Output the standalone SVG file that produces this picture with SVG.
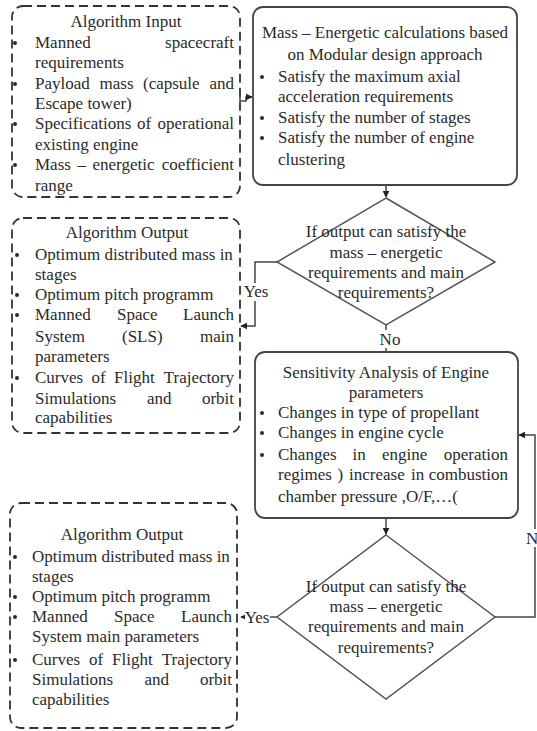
<svg xmlns="http://www.w3.org/2000/svg" width="537" height="731" viewBox="0 0 537 731">
<style>
.t{font-family:"Liberation Serif","Times New Roman",serif;font-size:17px;fill:#2b2b2b}
.c{text-anchor:middle}
.e{text-anchor:end}
.dash{fill:#fff;stroke:#333;stroke-width:1.8;stroke-dasharray:9 5}
.solid{fill:#fff;stroke:#444;stroke-width:1.8}
.dia{fill:#fff;stroke:#555;stroke-width:1.5}
.ln{fill:none;stroke:#444;stroke-width:1.5}
.b{fill:#2b2b2b}
.bg{fill:#fff}
</style>
<defs>
<marker id="ah" viewBox="0 0 10 10" refX="9" refY="5" markerWidth="7" markerHeight="7" markerUnits="userSpaceOnUse" orient="auto">
<path d="M0,0 L10,5 L0,10 z" fill="#222"/>
</marker>
</defs>
<rect width="537" height="731" fill="#fff"/>

<g id="algorithm-input">
<rect class="dash" x="12" y="6" width="228" height="191" rx="11"/>
<text class="t c" x="126" y="27">Algorithm Input</text>
<circle class="b" cx="15" cy="43" r="2"/>
<text class="t" x="35" y="48">Manned</text><text class="t e" x="234" y="48">spacecraft</text>
<text class="t" x="35" y="68">requirements</text>
<circle class="b" cx="15" cy="84" r="2"/>
<text class="t" x="35" y="89">Payload</text><text class="t" x="99.5" y="89">mass</text><text class="t" x="143" y="89">(capsule</text><text class="t e" x="234" y="89">and</text>
<text class="t" x="35" y="109">Escape tower)</text>
<circle class="b" cx="15" cy="124" r="2"/>
<text class="t" x="35" y="129">Specifications</text><text class="t" x="137" y="129">of</text><text class="t e" x="234" y="129">operational</text>
<text class="t" x="35" y="150">existing engine</text>
<circle class="b" cx="15" cy="165" r="2"/>
<text class="t" x="35" y="170">Mass</text><text class="t" x="77.5" y="170">–</text><text class="t" x="92.5" y="170">energetic</text><text class="t e" x="234" y="170">coefficient</text>
<text class="t" x="35" y="191">range</text>
</g>

<g id="mass-energetic">
<rect class="solid" x="253" y="7" width="264" height="178" rx="10"/>
<text class="t c" x="385" y="38">Mass – Energetic calculations based</text>
<text class="t c" x="385" y="60">on Modular design approach</text>
<circle class="b" cx="262" cy="77" r="2"/>
<text class="t" x="278" y="82">Satisfy the maximum axial</text>
<text class="t" x="278" y="102">acceleration requirements</text>
<circle class="b" cx="262" cy="118" r="2"/>
<text class="t" x="278" y="123">Satisfy the number of stages</text>
<circle class="b" cx="262" cy="138" r="2"/>
<text class="t" x="278" y="143">Satisfy the number of engine</text>
<text class="t" x="278" y="165">clustering</text>
</g>

<g id="decision-1">
<polygon class="dia" points="386,198 495,262 386,325 277,262"/>
<text class="t c" x="386" y="237">If output can satisfy the</text>
<text class="t c" x="386" y="258">mass – energetic</text>
<text class="t c" x="386" y="278">requirements and main</text>
<text class="t c" x="386" y="298">requirements?</text>
</g>

<g id="algorithm-output-1">
<rect class="dash" x="12" y="218" width="228" height="215" rx="11"/>
<text class="t c" x="127" y="238">Algorithm Output</text>
<circle class="b" cx="17" cy="255" r="2"/>
<text class="t" x="35" y="260">Optimum distributed mass in</text>
<text class="t" x="35" y="280">stages</text>
<circle class="b" cx="17" cy="295" r="2"/>
<text class="t" x="35" y="300">Optimum pitch programm</text>
<circle class="b" cx="17" cy="315" r="2"/>
<text class="t" x="35" y="320">Manned</text><text class="t" x="117" y="320">Space</text><text class="t e" x="234" y="320">Launch</text>
<text class="t" x="35" y="342">System</text><text class="t" x="122" y="342">(SLS)</text><text class="t e" x="234" y="342">main</text>
<text class="t" x="35" y="362">parameters</text>
<circle class="b" cx="17" cy="378" r="2"/>
<text class="t" x="35" y="383">Curves</text><text class="t" x="91.5" y="383">of</text><text class="t" x="114" y="383">Flight</text><text class="t e" x="234" y="383">Trajectory</text>
<text class="t" x="35" y="404">Simulations</text><text class="t" x="147" y="404">and</text><text class="t e" x="234" y="404">orbit</text>
<text class="t" x="35" y="423">capabilities</text>
</g>

<g id="sensitivity">
<rect class="solid" x="255" y="352" width="263" height="166" rx="10"/>
<text class="t c" x="386" y="378">Sensitivity Analysis of Engine</text>
<text class="t c" x="386" y="398">parameters</text>
<circle class="b" cx="262" cy="413" r="2"/>
<text class="t" x="278" y="418">Changes in type of propellant</text>
<circle class="b" cx="262" cy="433" r="2"/>
<text class="t" x="278" y="438">Changes in engine cycle</text>
<circle class="b" cx="262" cy="455" r="2"/>
<text class="t" x="278" y="460">Changes</text><text class="t" x="352.5" y="460">in</text><text class="t" x="382" y="460">engine</text><text class="t e" x="508" y="460">operation</text>
<text class="t" x="278" y="480">regimes</text><text class="t" x="337.5" y="480">)</text><text class="t" x="349" y="480">increase</text><text class="t" x="411" y="480">in</text><text class="t e" x="508" y="480">combustion</text>
<text class="t" x="278" y="502">chamber pressure ,O/F,…(</text>
</g>

<g id="decision-2">
<polygon class="dia" points="386,535 495,617 386,699 277,617"/>
<text class="t c" x="386" y="592">If output can satisfy the</text>
<text class="t c" x="386" y="612">mass – energetic</text>
<text class="t c" x="386" y="632">requirements and main</text>
<text class="t c" x="386" y="653">requirements?</text>
</g>

<g id="algorithm-output-2">
<rect class="dash" x="10" y="503" width="227" height="225" rx="11"/>
<text class="t c" x="122" y="540">Algorithm Output</text>
<circle class="b" cx="15" cy="557" r="2"/>
<text class="t" x="32" y="562">Optimum distributed mass in</text>
<text class="t" x="32" y="582">stages</text>
<circle class="b" cx="15" cy="597" r="2"/>
<text class="t" x="32" y="602">Optimum pitch programm</text>
<circle class="b" cx="15" cy="617" r="2"/>
<text class="t" x="32" y="622">Manned</text><text class="t" x="114" y="622">Space</text><text class="t e" x="232" y="622">Launch</text>
<text class="t" x="32" y="642">System main parameters</text>
<circle class="b" cx="15" cy="660" r="2"/>
<text class="t" x="32" y="665">Curves</text><text class="t" x="89" y="665">of</text><text class="t" x="112" y="665">Flight</text><text class="t e" x="232" y="665">Trajectory</text>
<text class="t" x="32" y="685">Simulations</text><text class="t" x="144.5" y="685">and</text><text class="t e" x="232" y="685">orbit</text>
<text class="t" x="32" y="705">capabilities</text>
</g>

<g id="connectors">
<path class="ln" d="M240,95 V101 H246 V97 H252" marker-end="url(#ah)"/>
<path class="ln" d="M386,185 V197" marker-end="url(#ah)"/>
<path class="ln" d="M277,262 H255 V326 H241" marker-end="url(#ah)"/>
<rect class="bg" x="243" y="283" width="25" height="18"/>
<text class="t c" x="256" y="297">Yes</text>
<path class="ln" d="M386,325 V352"/>
<rect class="bg" x="377" y="330" width="26" height="18"/>
<text class="t c" x="390" y="345">No</text>
<path class="ln" d="M386,518 V534" marker-end="url(#ah)"/>
<path class="ln" d="M277,617 H241" marker-end="url(#ah)"/>
<rect class="bg" x="245" y="608" width="25" height="18"/>
<text class="t c" x="257" y="623">Yes</text>
<path class="ln" d="M495,617 H535 V435 H519" marker-end="url(#ah)"/>
<rect class="bg" x="526" y="529" width="11" height="18"/>
<text class="t" x="526" y="544">N</text>
</g>
</svg>
